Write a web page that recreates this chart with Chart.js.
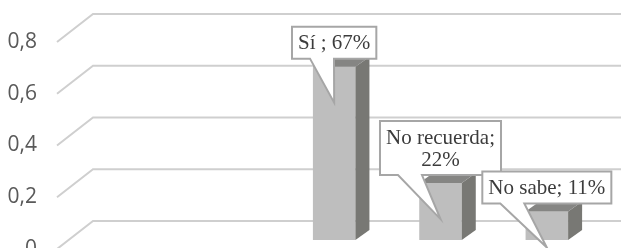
<!DOCTYPE html>
<html>
<head>
<meta charset="utf-8">
<script src="https://cdn.jsdelivr.net/npm/chart.js@4.4.1/dist/chart.umd.min.js"></script>
<style>
  html, body { margin: 0; padding: 0; background: #ffffff; }
  #chart { display: block; }
</style>
</head>
<body>
<canvas id="chart" width="621" height="248"></canvas>
<script>
// data
const categories = ['Sí', 'No recuerda', 'No sabe'];
const values = [0.67, 0.22, 0.11];
const separators = [' ; ', ';\n', '; '];   // how each callout joins name and percent
const yTicks = [0, 0.2, 0.4, 0.6, 0.8];

// 3d look
const barDepth = { x: 14, y: -10 };
const wallFront = { x: 57, dy: 9 };      // front edge of the floor/wall, below the bar plane
const wallBack = { dx: 36, dy: -19 };    // back wall, relative to bar plane

const gridWall = {
    id: 'gridWall',
    beforeDatasetsDraw(chart) {
        const ctx = chart.ctx;
        const y = chart.scales.y;
        ctx.save();
        ctx.strokeStyle = '#cfcfcf';
        ctx.lineWidth = 2;
        yTicks.forEach(v => {
            const py = y.getPixelForValue(v);
            ctx.beginPath();
            ctx.moveTo(wallFront.x, py + wallFront.dy);
            ctx.lineTo(wallFront.x + wallBack.dx, py + wallBack.dy);
            ctx.lineTo(chart.width, py + wallBack.dy);
            ctx.stroke();
        });
        ctx.restore();
    }
};

const bars3d = {
    id: 'bars3d',
    afterDatasetsDraw(chart) {
        const ctx = chart.ctx;
        const meta = chart.getDatasetMeta(0);
        ctx.save();
        meta.data.forEach(bar => {
            const p = bar.getProps(['x', 'y', 'base', 'width'], true);
            const l = p.x - p.width / 2, r = p.x + p.width / 2;
            // side face
            ctx.fillStyle = '#787874';
            ctx.beginPath();
            ctx.moveTo(r, p.y);
            ctx.lineTo(r + barDepth.x, p.y + barDepth.y);
            ctx.lineTo(r + barDepth.x, p.base + barDepth.y);
            ctx.lineTo(r, p.base);
            ctx.closePath();
            ctx.fill();
            // top face
            ctx.fillStyle = '#858583';
            ctx.beginPath();
            ctx.moveTo(l, p.y);
            ctx.lineTo(l + barDepth.x, p.y + barDepth.y);
            ctx.lineTo(r + barDepth.x, p.y + barDepth.y);
            ctx.lineTo(r, p.y);
            ctx.closePath();
            ctx.fill();
        });
        ctx.restore();
    }
};

const callouts = {
    id: 'callouts',
    afterDraw(chart) {
        const ctx = chart.ctx;
        const meta = chart.getDatasetMeta(0);
        ctx.save();
        ctx.font = '21px "Liberation Serif", serif';
        meta.data.forEach((bar, i) => {
            const pct = Math.round(values[i] * 100) + '%';
            const lines = (categories[i] + separators[i] + pct).split('\n');
            const lineH = 22;
            const textW = Math.max(...lines.map(s => ctx.measureText(s).width));
            const boxW = textW + 12;
            const boxH = lines.length * lineH + 10;
            const tipX = bar.x, tipY = bar.y + 36;
            const bottom = tipY - 44;
            const top = bottom - boxH;
            const left = bar.x - boxW / 2, right = bar.x + boxW / 2;
            const w0 = left + 18, w1 = left + 42;

            ctx.beginPath();
            ctx.moveTo(left, top);
            ctx.lineTo(right, top);
            ctx.lineTo(right, bottom);
            ctx.lineTo(w1, bottom);
            ctx.lineTo(tipX, tipY);
            ctx.lineTo(w0, bottom);
            ctx.lineTo(left, bottom);
            ctx.closePath();
            ctx.fillStyle = '#ffffff';
            ctx.fill();
            ctx.strokeStyle = '#a6a6a6';
            ctx.lineWidth = 2;
            ctx.stroke();

            ctx.fillStyle = '#3c3c3c';
            ctx.textAlign = 'center';
            ctx.textBaseline = 'middle';
            const cy = (top + bottom) / 2 - (lines.length - 1) * lineH / 2;
            lines.forEach((s, k) => ctx.fillText(s, bar.x, cy + k * lineH + 1));
        });
        ctx.restore();
    }
};

new Chart(document.getElementById('chart'), {
    type: 'bar',
    data: {
        labels: categories,
        datasets: [{
            data: values,
            backgroundColor: '#bebebe',
            borderWidth: 0,
            barPercentage: 0.4,
            categoryPercentage: 1.0
        }]
    },
    options: {
        responsive: false,
        animation: false,
        layout: { padding: { top: 33, bottom: 8, right: 21, left: 0 } },
        plugins: { legend: { display: false }, tooltip: { enabled: false } },
        scales: {
            x: { display: false },
            y: {
                min: 0,
                max: 0.8,
                afterFit(scale) {
                    // wide axis box so the bars sit to the right, labels stay left
                    scale.width = 281;
                    scale.paddingTop = 0;
                    scale.paddingBottom = 0;
                },
                grid: { display: false, drawTicks: false },
                border: { display: false },
                ticks: {
                    stepSize: 0.2,
                    padding: 244,
                    labelOffset: wallFront.dy,
                    color: '#595959',
                    font: { family: '"Open Sans", sans-serif', size: 21 },
                    callback: v => String(+v.toFixed(1)).replace('.', ',')
                }
            }
        }
    },
    plugins: [gridWall, bars3d, callouts]
});
</script>
</body>
</html>
